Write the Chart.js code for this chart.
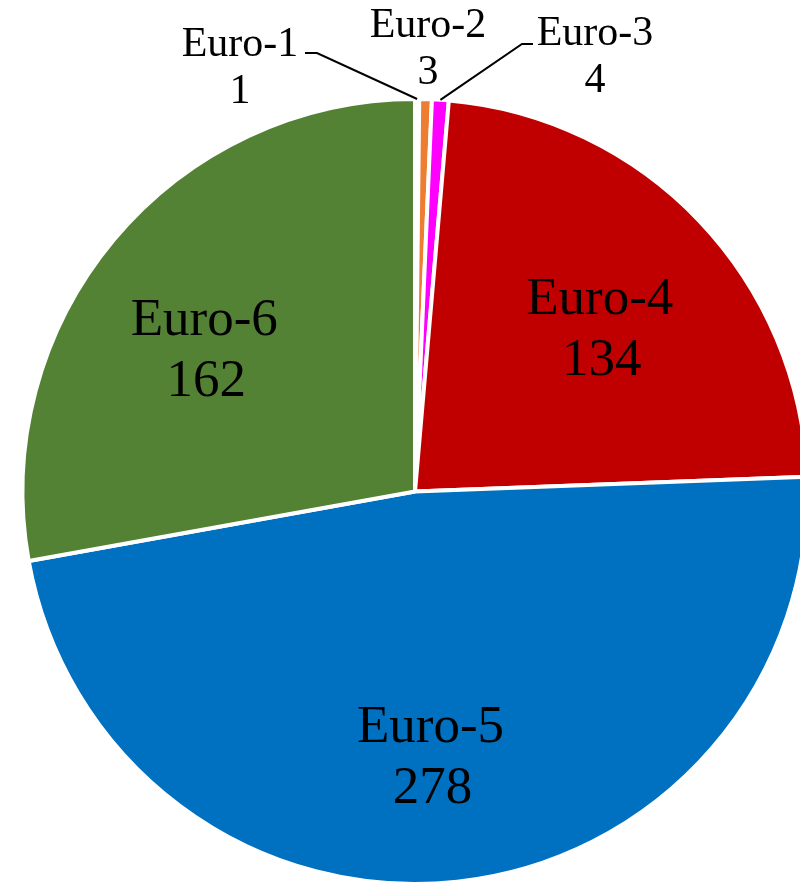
<!DOCTYPE html>
<html>
<head>
<meta charset="utf-8">
<title>Euro classes</title>
<script src="https://cdn.jsdelivr.net/npm/chart.js@4.4.1/dist/chart.umd.min.js"></script>
<style>
    html, body { margin: 0; padding: 0; background: #fff; overflow: hidden; }
    #wrap { position: absolute; left: 0; top: 0; width: 830px; height: 886px; }
</style>
</head>
<body>
<div id="wrap"><canvas id="pie" width="830" height="886"></canvas></div>
<script>
// data
const categories = ["Euro-1", "Euro-2", "Euro-3", "Euro-4", "Euro-5", "Euro-6"];
const counts = [1, 3, 4, 134, 278, 162];
const sliceColors = ["#ffffff", "#ed7d31", "#ff00ff", "#c00000", "#0070c0", "#548235"];

// label layout: outside labels (small slices) get a fixed spot + leader line,
// the rest sit inside along the slice's middle angle
const outsideLabels = {
    0: { x: 240, y: 56, line: [[317, 53], [305, 53]] },
    1: { x: 428, y: 37, line: null },
    2: { x: 595, y: 45, line: [[522, 44], [533, 44]] }
};
const insideFrac = 0.65;
const insideNudge = { 3: [0, -2], 4: [-12, -3], 5: [-15, 7] };

const labelPlugin = {
    id: "sliceLabels",
    afterDatasetsDraw(chart) {
        const ctx = chart.ctx;
        const meta = chart.getDatasetMeta(0);
        ctx.save();
        ctx.fillStyle = "#000";
        ctx.strokeStyle = "#000";
        ctx.textAlign = "center";
        ctx.textBaseline = "alphabetic";

        meta.data.forEach((arc, i) => {
            const mid = (arc.startAngle + arc.endAngle) / 2;
            const name = categories[i];
            const val = String(counts[i]);

            if (outsideLabels[i]) {
                const lab = outsideLabels[i];
                if (lab.line) {
                    const ex = arc.x + Math.cos(mid) * arc.outerRadius;
                    const ey = arc.y + Math.sin(mid) * arc.outerRadius;
                    ctx.lineWidth = 2;
                    ctx.beginPath();
                    ctx.moveTo(ex, ey);
                    ctx.lineTo(lab.line[0][0], lab.line[0][1]);
                    ctx.lineTo(lab.line[1][0], lab.line[1][1]);
                    ctx.stroke();
                }
                ctx.font = "42px 'Liberation Serif', 'Times New Roman', serif";
                ctx.fillText(name, lab.x, lab.y);
                ctx.fillText(val, lab.x, lab.y + 47);
            } else {
                const nudge = insideNudge[i] || [0, 0];
                const r = arc.outerRadius * insideFrac;
                const x = arc.x + Math.cos(mid) * r + nudge[0];
                const y = arc.y + Math.sin(mid) * r + nudge[1];
                ctx.font = "53px 'Liberation Serif', 'Times New Roman', serif";
                ctx.fillText(name, x, y);
                ctx.fillText(val, x + 2, y + 61);
            }
        });
        ctx.restore();
    }
};

const chart = new Chart(document.getElementById("pie"), {
    type: "pie",
    data: {
        labels: categories,
        datasets: [{
            data: counts,
            backgroundColor: sliceColors,
            borderColor: "#ffffff",
            borderWidth: 4,
            hoverOffset: 0,
            offset: 0
        }]
    },
    options: {
        responsive: false,
        animation: false,
        devicePixelRatio: 1,
        layout: { padding: { left: 20, right: 20, top: 97, bottom: 0 } },
        plugins: {
            legend: { display: false },
            tooltip: { enabled: false }
        }
    },
    plugins: [labelPlugin]
});
</script>
</body>
</html>
